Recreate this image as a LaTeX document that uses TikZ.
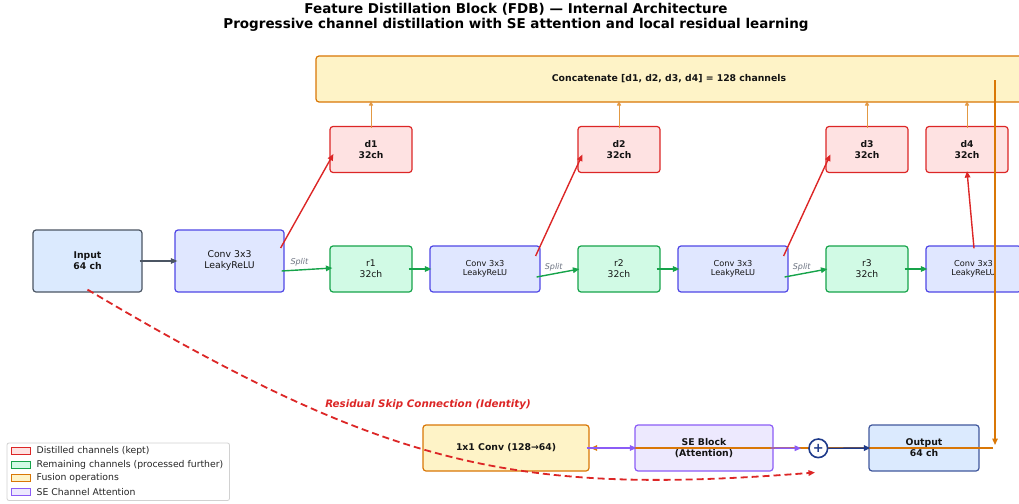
\documentclass[tikz,border=0pt]{standalone}
\usepackage{fontspec}
\setmainfont{DejaVu Sans}
\usetikzlibrary{arrows.meta,calc}

\definecolor{inpfill}{HTML}{DBEAFE}
\definecolor{inpdraw}{HTML}{4B5563}
\definecolor{convfill}{HTML}{E0E7FF}
\definecolor{convdraw}{HTML}{4F46E5}
\definecolor{remfill}{HTML}{D1FAE5}
\definecolor{remdraw}{HTML}{16A34A}
\definecolor{distfill}{HTML}{FEE2E2}
\definecolor{distdraw}{HTML}{DC2626}
\definecolor{fusefill}{HTML}{FEF3C7}
\definecolor{fusedraw}{HTML}{D97706}
\definecolor{sefill}{HTML}{EDE9FE}
\definecolor{sedraw}{HTML}{8B5CF6}
\definecolor{outdraw}{HTML}{1E3A8A}
\definecolor{splitgray}{HTML}{6B7280}

\begin{document}
\begin{tikzpicture}[x=1pt,y=-1pt,
  box/.style={draw, rounded corners=3pt, line width=1.2pt, align=center, inner sep=1pt, text=black!92},
  inbox/.style={box, draw=inpdraw, fill=inpfill, minimum width=109pt, minimum height=62pt, font=\bfseries\fontsize{9.3}{11}\selectfont},
  bigconv/.style={box, draw=convdraw, fill=convfill, minimum width=109pt, minimum height=62pt, font=\fontsize{9.3}{11}\selectfont},
  convbox/.style={box, draw=convdraw, fill=convfill, minimum width=110pt, minimum height=46pt, font=\fontsize{8.2}{9.5}\selectfont},
  rembox/.style={box, draw=remdraw, fill=remfill, minimum width=82pt, minimum height=46pt, font=\fontsize{9.2}{10.8}\selectfont},
  distbox/.style={box, draw=distdraw, fill=distfill, minimum width=82pt, minimum height=46pt, font=\bfseries\fontsize{9.2}{10.8}\selectfont},
  fusebox/.style={box, draw=fusedraw, fill=fusefill, minimum height=46pt, font=\bfseries\fontsize{9.3}{11}\selectfont},
  sebox/.style={box, draw=sedraw, fill=sefill, minimum width=138pt, minimum height=46pt, font=\bfseries\fontsize{9.3}{10.8}\selectfont},
  outbox/.style={box, draw=outdraw!85, fill=inpfill, minimum width=110pt, minimum height=46pt, font=\bfseries\fontsize{9.3}{10.8}\selectfont},
  arr/.style={-{Triangle[length=6.5pt,width=5.5pt]}, line width=1.4pt},
  thinarr/.style={-{Triangle[length=5pt,width=4pt]}, line width=1pt},
  split/.style={font=\itshape\fontsize{8}{9}\selectfont, text=splitgray, inner sep=1pt},
  legtext/.style={font=\fontsize{9.3}{10}\selectfont, text=black!85, inner sep=1pt}
]
\clip (0,0) rectangle (1019,503);

% Title
\node[font=\bfseries\fontsize{13.5}{15}\selectfont, align=center] (title) at (516,17)
  {Feature Distillation Block (FDB) — Internal Architecture\\Progressive channel distillation with SE attention and local residual learning};

% Concatenation bar
\node[fusebox, minimum width=706pt] (concat) at (669,79) {Concatenate [d1, d2, d3, d4] = 128 channels};

% Input and first conv
\node[inbox] (input) at (87.5,261) {Input\\64 ch};
\node[bigconv] (conv1) at (229.5,261) {Conv 3x3\\LeakyReLU};

% Stage 1
\node[rembox] (r1) at (371,269) {r1\\32ch};
\node[distbox] (d1) at (371,149.5) {d1\\32ch};
\node[convbox] (conv2) at (485,269) {Conv 3x3\\LeakyReLU};

% Stage 2
\node[rembox] (r2) at (619,269) {r2\\32ch};
\node[distbox] (d2) at (619,149.5) {d2\\32ch};
\node[convbox] (conv3) at (733,269) {Conv 3x3\\LeakyReLU};

% Stage 3
\node[rembox] (r3) at (867,269) {r3\\32ch};
\node[distbox] (d3) at (867,149.5) {d3\\32ch};
\node[convbox, minimum width=95pt] (conv4) at (973.5,269) {Conv 3x3\\LeakyReLU};
\node[distbox] (d4) at (967,149.5) {d4\\32ch};

% Fusion, attention and output
\node[fusebox, minimum width=166pt] (fuse) at (506,448) {1x1 Conv (128→64)};
\node[sebox] (se) at (704,448) {SE Block\\(Attention)};
\node[outbox] (output) at (924,448) {Output\\64 ch};

% Distilled channels up to the concat
\foreach \d in {d1,d2,d3,d4}
  \draw[thinarr, fusedraw!75] ([yshift=-2pt]\d.north) -- ($(\d.north |- concat.south)+(0,-2)$);

% Main path
\draw[arr, inpdraw] ([xshift=-3pt]input.east) -- ([xshift=3pt]conv1.west);
\draw[arr, remdraw] ([xshift=-3pt,yshift=-10pt]conv1.east) -- ([xshift=3pt,yshift=1pt]r1.west)
  node[split, pos=0.35, above=2pt] {Split};
\draw[arr, distdraw] ([xshift=-4pt,yshift=13pt]conv1.east) -- ([xshift=4pt,yshift=-4.5pt]d1.west);
\draw[arr, remdraw] ([xshift=-4pt]r1.east) -- ([xshift=2pt]conv2.west);
\draw[arr, remdraw] ([xshift=-4pt,yshift=-8pt]conv2.east) -- ([xshift=2pt]r2.west)
  node[split, pos=0.4, above=1pt] {Split};
\draw[arr, distdraw] ([xshift=-5pt,yshift=13pt]conv2.east) -- ([xshift=5pt,yshift=-5pt]d2.west);
\draw[arr, remdraw] ([xshift=-4pt]r2.east) -- ([xshift=2pt]conv3.west);
\draw[arr, remdraw] ([xshift=-4pt,yshift=-8pt]conv3.east) -- ([xshift=2pt]r3.west)
  node[split, pos=0.4, above=1pt] {Split};
\draw[arr, distdraw] ([xshift=-5pt,yshift=13pt]conv3.east) -- ([xshift=5pt,yshift=-5pt]d3.west);
\draw[arr, remdraw] ([xshift=-4pt]r3.east) -- ([xshift=2pt]conv4.west);
\draw[arr, distdraw] ([xshift=0.5pt,yshift=-3pt]conv4.north) -- ([yshift=2pt]d4.south);

% Concat output routed down to the 1x1 conv
\coordinate (fusetop) at (995,80);
\coordinate (fusecorner) at (995,445);
\coordinate (fuseback) at (993,448);
\draw[arr, fusedraw] (fusetop) -- (fusecorner);
\draw[arr, fusedraw] (fuseback) -- ([xshift=1pt]fuse.east);

% Residual add
\node[circle, draw=outdraw, fill=white, line width=1.6pt, minimum size=18.6pt, inner sep=0pt,
  font=\bfseries\fontsize{13}{13}\selectfont, text=outdraw] (plus) at (818.3,448.3) {+};
\draw[arr, sedraw] ([xshift=-3pt]fuse.east) -- ([xshift=2pt]se.west);
\draw[arr, sedraw] ([xshift=-3pt]se.east) -- ([xshift=-7pt]plus.west);
\draw[arr, outdraw] (plus.east) -- ([xshift=2pt]output.west);

% Skip connection
\coordinate (skipend) at (815,472.5);
\draw[arr, distdraw, line width=1.8pt, dash pattern=on 7pt off 4pt] ([yshift=3pt]input.south)
  .. controls (388,468) and (515,496) .. (skipend);
\node[font=\bfseries\itshape\fontsize{10.3}{12}\selectfont, text=distdraw] (skiplabel) at (428,405)
  {Residual Skip Connection (Identity)};

% Legend
\draw[rounded corners=2pt, draw=black!18, fill=white, line width=0.8pt] (7,443) rectangle (229.5,500.5);
\foreach \yy/\fc/\dc/\txt in {451/distfill/distdraw/Distilled channels (kept),
    464.5/remfill/remdraw/Remaining channels (processed further),
    478/fusefill/fusedraw/Fusion operations,
    492/sefill/sedraw/SE Channel Attention}{
  \draw[fill=\fc, draw=\dc, line width=0.9pt] (11,\yy-3.5) rectangle (30,\yy+3.5);
  \node[legtext, anchor=west] at (35.5,\yy) {\txt};
}

\end{tikzpicture}
\end{document}
